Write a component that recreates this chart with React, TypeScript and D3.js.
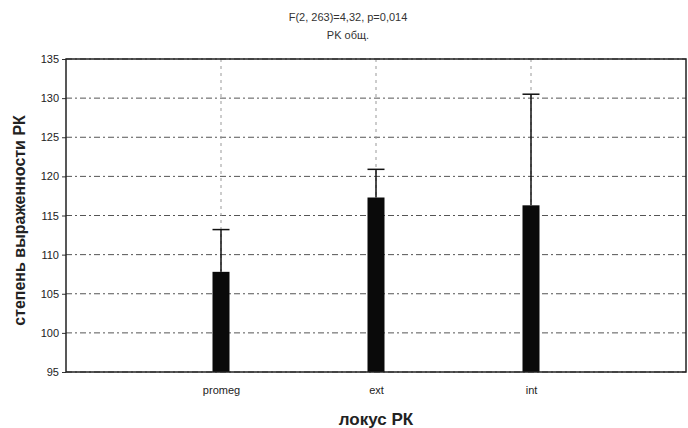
import React, { useEffect, useRef } from 'react';
import * as d3 from 'd3';

const categories = ['promeg', 'ext', 'int'];
const means = [107.8, 117.3, 116.3];
const upperErr = [113.2, 120.9, 130.5];
const yTicks = [95, 100, 105, 110, 115, 120, 125, 130, 135];

const titleLines = ['F(2, 263)=4,32, p=0,014', 'PK общ.'];
const xTitle = 'локус РК';
const yTitle = 'степень выраженности РК';

const width = 688;
const height = 428;
const margin = { top: 59, right: 2, bottom: 56, left: 66 };

const App = () => {
  const svgRef = useRef<SVGSVGElement>(null);

  useEffect(() => {
    const svg = d3.select(svgRef.current);
    svg.selectAll('*').remove();

    const innerWidth = width - margin.left - margin.right;
    const innerHeight = height - margin.top - margin.bottom;

    const xScale = d3.scalePoint<string>()
      .domain(categories)
      .range([0, innerWidth])
      .padding(1);

    const yScale = d3.scaleLinear()
      .domain([95, 135])
      .range([innerHeight, 0]);

    const g = svg.append('g')
      .attr('transform', `translate(${margin.left},${margin.top})`);

    // grid lines
    g.append('g')
      .selectAll('line')
      .data(yTicks)
      .enter().append('line')
      .attr('x1', 0)
      .attr('x2', innerWidth)
      .attr('y1', d => yScale(d))
      .attr('y2', d => yScale(d))
      .attr('stroke', '#555')
      .attr('stroke-width', 1)
      .attr('stroke-dasharray', '6,3,2,3');

    g.append('g')
      .selectAll('line')
      .data(categories)
      .enter().append('line')
      .attr('x1', d => xScale(d)!)
      .attr('x2', d => xScale(d)!)
      .attr('y1', 0)
      .attr('y2', innerHeight)
      .attr('stroke', '#999')
      .attr('stroke-width', 1)
      .attr('stroke-dasharray', '3,4');

    // y axis
    const yAxis = g.append('g')
      .call(d3.axisLeft(yScale).tickValues(yTicks).tickSize(4).tickPadding(3));
    yAxis.select('.domain').remove();
    yAxis.selectAll('text')
      .attr('font-family', 'Arial, "Liberation Sans", sans-serif')
      .attr('font-size', 11)
      .attr('fill', '#222');
    yAxis.selectAll('line').attr('stroke', '#333');

    // x axis labels
    const xAxis = g.append('g')
      .attr('transform', `translate(0,${innerHeight})`)
      .call(d3.axisBottom(xScale).tickSize(0).tickPadding(14));
    xAxis.select('.domain').remove();
    xAxis.selectAll('text')
      .attr('font-family', 'Arial, "Liberation Sans", sans-serif')
      .attr('font-size', 11)
      .attr('fill', '#222');

    const barW = 17;
    const rows = categories.map((c, i) => ({ c, mean: means[i], hi: upperErr[i] }));

    // error whiskers
    g.selectAll('.whisker')
      .data(rows)
      .enter().append('line')
      .attr('class', 'whisker')
      .attr('x1', d => xScale(d.c)!)
      .attr('x2', d => xScale(d.c)!)
      .attr('y1', d => yScale(d.mean))
      .attr('y2', d => yScale(d.hi))
      .attr('stroke', '#111')
      .attr('stroke-width', 1.5);

    g.selectAll('.cap')
      .data(rows)
      .enter().append('line')
      .attr('class', 'cap')
      .attr('x1', d => xScale(d.c)! - barW / 2)
      .attr('x2', d => xScale(d.c)! + barW / 2)
      .attr('y1', d => yScale(d.hi))
      .attr('y2', d => yScale(d.hi))
      .attr('stroke', '#111')
      .attr('stroke-width', 1.5);

    // bars
    g.selectAll('.bar')
      .data(rows)
      .enter().append('rect')
      .attr('class', 'bar')
      .attr('x', d => xScale(d.c)! - barW / 2)
      .attr('y', d => yScale(d.mean))
      .attr('width', barW)
      .attr('height', d => innerHeight - yScale(d.mean))
      .attr('fill', '#0a0a0a');

    // frame
    g.append('rect')
      .attr('x', 0)
      .attr('y', 0)
      .attr('width', innerWidth)
      .attr('height', innerHeight)
      .attr('fill', 'none')
      .attr('stroke', '#222')
      .attr('stroke-width', 1.5);

    // titles
    svg.append('g')
      .selectAll('text')
      .data(titleLines)
      .enter().append('text')
      .attr('x', 348)
      .attr('y', (d, i) => 21 + i * 18)
      .attr('text-anchor', 'middle')
      .attr('font-family', 'Arial, "Liberation Sans", sans-serif')
      .attr('font-size', 11)
      .attr('fill', '#333')
      .text(d => d);

    svg.append('text')
      .attr('x', margin.left + innerWidth / 2)
      .attr('y', 425)
      .attr('text-anchor', 'middle')
      .attr('font-family', 'Arial, "Liberation Sans", sans-serif')
      .attr('font-size', 17)
      .attr('font-weight', 'bold')
      .attr('fill', '#222')
      .text(xTitle);

    svg.append('text')
      .attr('transform', `translate(25,${margin.top + innerHeight / 2 + 5}) rotate(-90)`)
      .attr('text-anchor', 'middle')
      .attr('font-family', 'Arial, "Liberation Sans", sans-serif')
      .attr('font-size', 16)
      .attr('font-weight', 'bold')
      .attr('fill', '#222')
      .text(yTitle);
  }, []);

  return (
    <svg
      ref={svgRef}
      width={width}
      height={height}
      style={{ position: 'absolute', left: 0, top: 0, background: '#fff' }}
    ></svg>
  );
};

export default App;
